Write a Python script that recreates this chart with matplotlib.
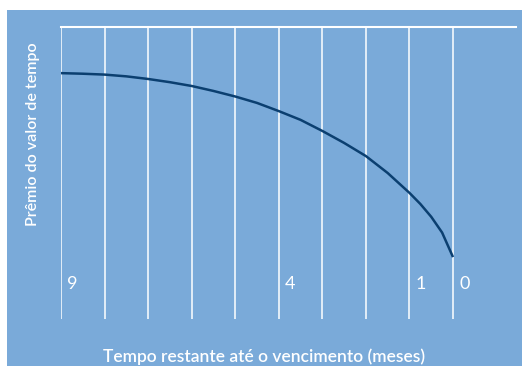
import matplotlib
matplotlib.use("Agg")
import matplotlib.pyplot as plt
import matplotlib.patches as patches

# time value premium vs months remaining to expiry (arbitrary units)
months = [9, 8.5, 8, 7.5, 7, 6.5, 6, 5.5, 5, 4.5, 4, 3.5, 3, 2.5, 2, 1.5, 1, 0.75, 0.5, 0.25, 0]
premium = [84.2, 84.0, 83.7, 83.1, 82.2, 81.1, 79.8, 78.1, 76.2, 74.0, 71.2, 68.2,
           64.4, 60.3, 55.8, 50.0, 43.2, 39.4, 35.0, 29.6, 21.2]

grid_months = [9, 8, 7, 6, 5, 4, 3, 2, 1, 0]
labeled_months = [9, 4, 1, 0]

bg_blue = "#7aaad9"
curve_blue = "#0b3f70"

W, H = 522, 366
fig = plt.figure(figsize=(W / 100, H / 100), dpi=100)
fig.patch.set_facecolor("white")

# blue panel behind everything
fig.add_artist(patches.Rectangle((7 / W, 0), 1 - 7 / W, 1 - 10 / H,
                                 transform=fig.transFigure, facecolor=bg_blue,
                                 edgecolor="none", zorder=0))

# plot area in pixels: x 61..516, y 27..319
left, right, top, bottom = 61, 516, 27, 319
ax = fig.add_axes([left / W, 1 - bottom / H, (right - left) / W, (bottom - top) / H])
ax.set_facecolor("none")

px_per_month = (453 - 61) / 9
ax.set_xlim(9, 9 - (right - left) / px_per_month)
ax.set_ylim(0, 100)

for m in grid_months:
    ax.axvline(m, color="white", lw=1.1, zorder=1)
ax.axhline(100, color="white", lw=1.5, zorder=1, clip_on=False)

ax.plot(months, premium, color=curve_blue, lw=1.8, zorder=3,
        solid_capstyle="butt", solid_joinstyle="round")

font = "Lato"
for m in labeled_months:
    ax.text(m - 6 / px_per_month, 12, str(m), color="white", fontsize=13,
            family=font, ha="left", va="center")

for s in ax.spines.values():
    s.set_visible(False)
ax.set_xticks([])
ax.set_yticks([])

fig.text(264 / W, 1 - 357 / H, "Tempo restante até o vencimento (meses)",
         color="white", fontsize=12.5, family=font, fontweight="semibold",
         ha="center", va="center")
fig.text(33 / W, 1 - 134 / H, "Prêmio do valor de tempo", color="white",
         fontsize=11.5, family=font, fontweight="semibold", rotation=90,
         ha="center", va="center")

fig.savefig("out.png", dpi=100, facecolor="white")
